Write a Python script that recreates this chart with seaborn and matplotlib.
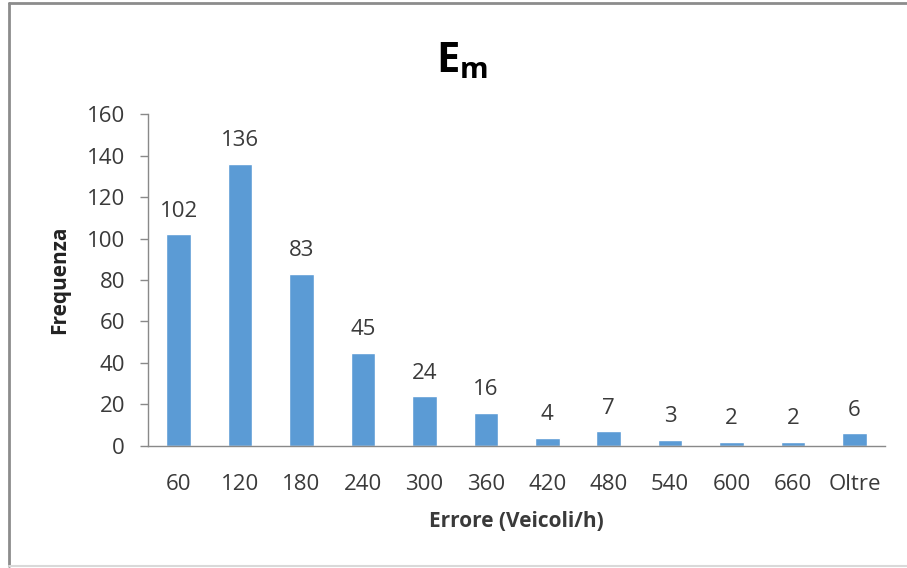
import matplotlib
matplotlib.use("Agg")
import matplotlib.pyplot as plt
from matplotlib.lines import Line2D
import seaborn as sns
import pandas as pd

# Error histogram: frequency per error class (vehicles/h)
categories = ["60", "120", "180", "240", "300", "360", "420", "480", "540", "600", "660", "Oltre"]
frequencies = [102, 136, 83, 45, 24, 16, 4, 7, 3, 2, 2, 6]
y_ticks = [0, 20, 40, 60, 80, 100, 120, 140, 160]

sns.set_theme(style="white")
plt.rcParams["font.family"] = ["Open Sans", "DejaVu Sans"]
plt.rcParams["mathtext.fontset"] = "custom"
plt.rcParams["mathtext.rm"] = "Open Sans"
plt.rcParams["mathtext.bf"] = "Open Sans:bold"

df = pd.DataFrame({"Errore": categories, "Frequenza": frequencies})

fig = plt.figure(figsize=(9.07, 5.68), dpi=100)
ax = fig.add_axes([0.163, 0.215, 0.813, 0.584])

bar_color = "#5B9BD5"
sns.barplot(data=df, x="Errore", y="Frequenza", color=bar_color, width=0.4,
            saturation=1, ax=ax)

axis_gray = "#898989"
text_gray = "#3a3a3a"
label_size = 16

ax.set_ylim(0, 160)
ax.set_xlim(-0.5, len(categories) - 0.5)
ax.set_yticks(y_ticks)
ax.set_yticklabels([str(v) for v in y_ticks], fontsize=label_size, color=text_gray)
ax.set_xticks(range(len(categories)))
ax.set_xticklabels(categories, fontsize=label_size, color=text_gray)

# category separators as outward tick marks on the x axis
ax.set_xticks([i - 0.5 for i in range(len(categories) + 1)], minor=True)
ax.tick_params(axis="x", which="major", length=0, pad=20)
ax.tick_params(axis="x", which="minor", length=5.5, width=1, color=axis_gray, direction="out")
ax.tick_params(axis="y", which="major", length=5.5, width=1, color=axis_gray,
               direction="out", pad=11, left=True)

for side in ["top", "right"]:
    ax.spines[side].set_visible(False)
for side in ["left", "bottom"]:
    ax.spines[side].set_visible(True)
    ax.spines[side].set_color(axis_gray)
    ax.spines[side].set_linewidth(1)

ax.set_xlabel("Errore (Veicoli/h)", fontsize=15, fontweight="bold", color=text_gray, labelpad=12)
ax.set_ylabel("Frequenza", fontsize=15, fontweight="bold", color="#222222", labelpad=12)

for container in ax.containers:
    ax.bar_label(container, labels=[str(v) for v in frequencies], padding=9,
                 fontsize=label_size, color=text_gray)

fig.text(0.509, 0.893, r"$\mathbf{E_m}$", fontsize=30, ha="center", va="center", color="black")

# chart area frame
fig.add_artist(Line2D([0.0099, 0.0099], [0.0035, 0.995], transform=fig.transFigure,
                      color="#8c8c8c", linewidth=2))
fig.add_artist(Line2D([0.0099, 1.0], [0.995, 0.995], transform=fig.transFigure,
                      color="#8c8c8c", linewidth=2))
fig.add_artist(Line2D([0.0099, 1.0], [0.0035, 0.0035], transform=fig.transFigure,
                      color="#d9d9d9", linewidth=1.5))

fig.savefig("out.png", dpi=100)
